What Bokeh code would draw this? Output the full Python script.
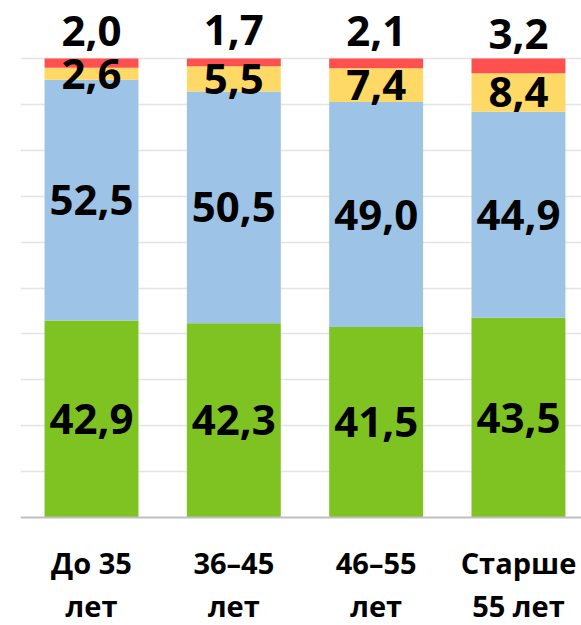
import numpy as np
from bokeh.plotting import figure
from bokeh.models import ColumnDataSource, Range1d, Grid, FixedTicker, Span
from bokeh.core.properties import value
from bokeh.embed import file_html
from bokeh.resources import INLINE

# ---- data ----
cat_line1 = ["До 35", "36–45", "46–55", "Старше"]
cat_line2 = ["лет", "лет", "лет", "55 лет"]
green = [42.9, 42.3, 41.5, 43.5]
blue = [52.5, 50.5, 49.0, 44.9]
yellow = [2.6, 5.5, 7.4, 8.4]
red = [2.0, 1.7, 2.1, 3.2]
grid_ticks = [10, 20, 30, 40, 50, 60, 70, 80, 90, 100]

series = ["green", "blue", "yellow", "red"]
colors = ["#7EC322", "#9DC3E6", "#FFD966", "#FF5050"]

x = list(range(len(cat_line1)))
src = ColumnDataSource(dict(x=x, green=green, blue=blue, yellow=yellow, red=red))

p = figure(width=581, height=625, output_backend="svg", toolbar_location=None,
           x_axis_location=None, y_axis_location=None,
           x_range=Range1d(-0.499, 3.443), y_range=Range1d(-23.53, 112.64),
           min_border_left=20, min_border_right=0, min_border_top=0, min_border_bottom=0)
p.outline_line_color = None
p.xgrid.visible = False
p.ygrid.visible = False
p.add_layout(Grid(dimension=1, ticker=FixedTicker(ticks=grid_ticks),
                  grid_line_color="#E4E4E4", grid_line_width=1.5))

p.vbar_stack(series, x="x", width=0.66, color=colors, source=src, line_color=None)

p.add_layout(Span(location=0, dimension="width", line_color="#BFBFBF", line_width=2))

# ---- labels ----
vals = np.array([green, blue, yellow, red])
cum = np.cumsum(vals, axis=0)
mids = cum - vals / 2
lx, ly, lt = [], [], []
for s in range(3):
    for i in range(len(x)):
        lx.append(x[i]); ly.append(mids[s, i]); lt.append(f"{vals[s, i]:.1f}".replace(".", ","))
for i in range(len(x)):
    lx.append(x[i]); ly.append(mids[3, i] + 7.0); lt.append(f"{vals[3, i]:.1f}".replace(".", ","))

p.text(x=lx, y=ly, text=lt, text_font=value("Open Sans"), text_font_style="bold",
       text_font_size="42px", text_align="center", text_baseline="middle", text_color="black")

p.text(x=x, y=[-9.8] * len(x), text=cat_line1, text_font=value("Open Sans"),
       text_font_style="bold", text_font_size="29px", text_align="center",
       text_baseline="middle", text_color="black")
p.text(x=x, y=[-19.1] * len(x), text=cat_line2, text_font=value("Open Sans"),
       text_font_style="bold", text_font_size="29px", text_align="center",
       text_baseline="middle", text_color="black")

open("out.html", "w").write(file_html(p, INLINE))
